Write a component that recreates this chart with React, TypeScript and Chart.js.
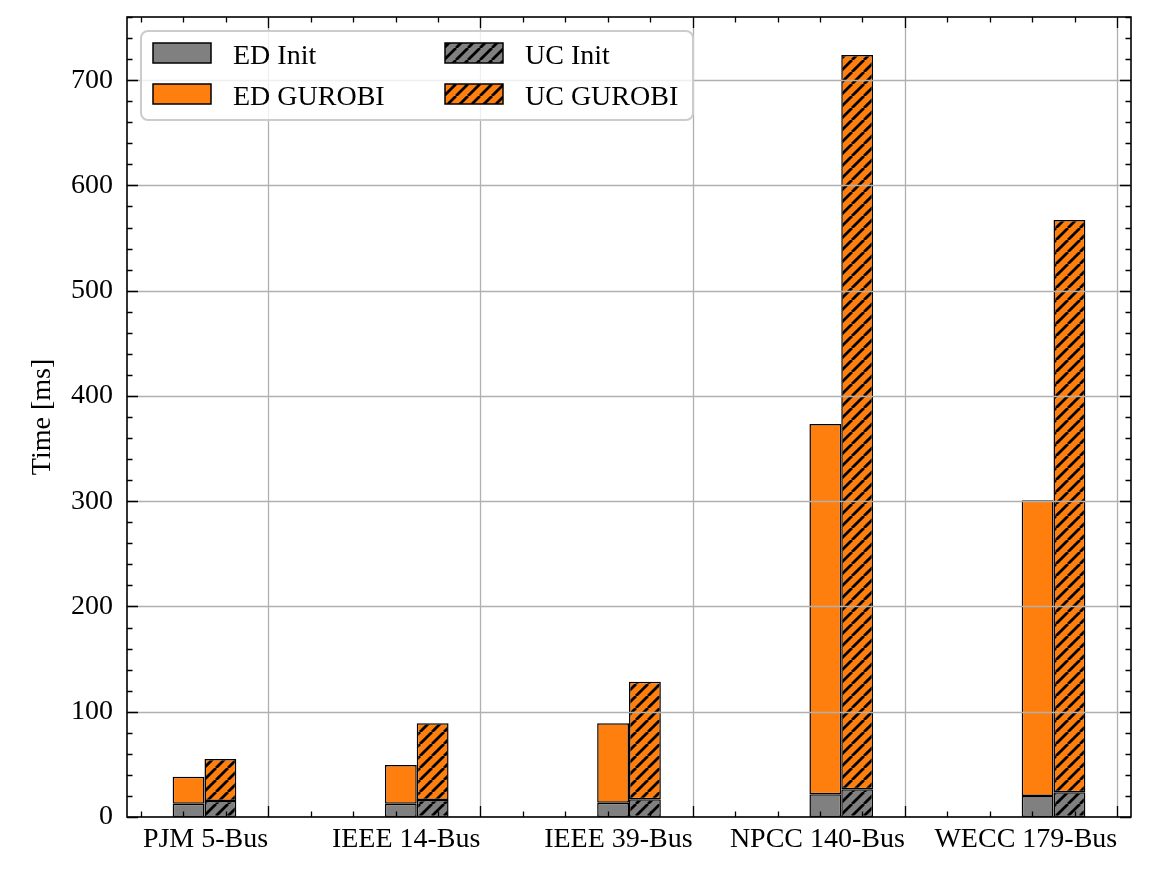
import React, { useEffect, useRef } from 'react';
import { Chart, registerables } from 'chart.js';

Chart.register(...registerables);

// ---- data ----
const categories = ['PJM 5-Bus', 'IEEE 14-Bus', 'IEEE 39-Bus', 'NPCC 140-Bus', 'WECC 179-Bus'];
const edInit = [12.5, 12.5, 13.5, 21.5, 20.0];
const edGurobi = [25.8, 36.9, 75.5, 351.9, 281.0];
const ucInit = [15.2, 16.2, 16.8, 26.3, 23.4];
const ucGurobi = [39.9, 72.8, 111.8, 697.6, 543.8];
const seriesLabels = ['ED Init', 'ED GUROBI', 'UC Init', 'UC GUROBI'];
const yMajorTicks = [0, 100, 200, 300, 400, 500, 600, 700];
const yMinorStep = 20;
const yMax = 760;
const xMin = -0.365;
const xMax = 4.365;
const xTickShift = 0.3;
const xMinorStep = 0.2;

const FONT = '"Liberation Serif", "Times New Roman", serif';
const GREY = '#808080';
const ORANGE = '#ff7f0e';
const GRID = '#b0b0b0';

function makeHatch(ctx: CanvasRenderingContext2D, color: string) {
  const p = 12;
  const c = document.createElement('canvas');
  c.width = p;
  c.height = p;
  const g = c.getContext('2d')!;
  g.fillStyle = color;
  g.fillRect(0, 0, p, p);
  g.strokeStyle = '#000';
  g.lineWidth = 2.8;
  g.beginPath();
  for (let k = -1; k <= 1; k++) {
    g.moveTo(k * p, p);
    g.lineTo(k * p + p, 0);
  }
  g.stroke();
  return ctx.createPattern(c, 'repeat')!;
}

const decorPlugin = {
  id: 'decor',
  afterDatasetsDraw(chart: any) {
    const { ctx, chartArea: a, scales } = chart;
    const x = scales.x;
    const y = scales.y;
    ctx.save();
    ctx.beginPath();
    ctx.rect(a.left, a.top, a.width, a.height);
    ctx.clip();
    ctx.strokeStyle = GRID;
    ctx.lineWidth = 1.3;
    ctx.beginPath();
    for (const t of x.ticks) {
      const px = Math.round(x.getPixelForValue(t.value)) + 0.5;
      ctx.moveTo(px, a.top);
      ctx.lineTo(px, a.bottom);
    }
    for (const t of y.ticks) {
      const py = Math.round(y.getPixelForValue(t.value)) + 0.5;
      ctx.moveTo(a.left, py);
      ctx.lineTo(a.right, py);
    }
    ctx.stroke();
    ctx.restore();
  },
  afterDraw(chart: any) {
    const { ctx, chartArea: a, scales } = chart;
    const x = scales.x;
    const y = scales.y;
    ctx.save();
    // ticks
    ctx.strokeStyle = '#000';
    ctx.lineWidth = 1.3;
    const majLen = 11;
    const minLen = 5.5;
    ctx.beginPath();
    const xMaj = x.ticks.map((t: any) => t.value);
    const isMajX = (v: number) => xMaj.some((m: number) => Math.abs(m - v) < 1e-6);
    const v0 = xTickShift - Math.floor((xTickShift - xMin) / xMinorStep + 1e-9) * xMinorStep;
    for (let v = v0; v <= xMax + 1e-9; v += xMinorStep) {
      if (v < xMin - 1e-9) continue;
      const px = Math.round(x.getPixelForValue(v)) + 0.5;
      const len = isMajX(v) ? majLen : minLen;
      ctx.moveTo(px, a.bottom);
      ctx.lineTo(px, a.bottom - len);
      ctx.moveTo(px, a.top);
      ctx.lineTo(px, a.top + len);
    }
    for (let v = 0; v <= yMax + 1e-9; v += yMinorStep) {
      const py = Math.round(y.getPixelForValue(v)) + 0.5;
      const len = v % 100 === 0 ? majLen : minLen;
      ctx.moveTo(a.left, py);
      ctx.lineTo(a.left + len, py);
      ctx.moveTo(a.right, py);
      ctx.lineTo(a.right - len, py);
    }
    ctx.stroke();
    // frame
    ctx.lineWidth = 1.6;
    ctx.strokeRect(a.left, a.top, a.width, a.height);

    // legend
    const bx = a.left + 14;
    const by = a.top + 14;
    const bw = 552;
    const bh = 89;
    const r = 7;
    ctx.beginPath();
    ctx.moveTo(bx + r, by);
    ctx.lineTo(bx + bw - r, by);
    ctx.arcTo(bx + bw, by, bx + bw, by + r, r);
    ctx.lineTo(bx + bw, by + bh - r);
    ctx.arcTo(bx + bw, by + bh, bx + bw - r, by + bh, r);
    ctx.lineTo(bx + r, by + bh);
    ctx.arcTo(bx, by + bh, bx, by + bh - r, r);
    ctx.lineTo(bx, by + r);
    ctx.arcTo(bx, by, bx + r, by, r);
    ctx.closePath();
    ctx.fillStyle = 'rgba(255,255,255,0.8)';
    ctx.fill();
    ctx.strokeStyle = '#cccccc';
    ctx.lineWidth = 2;
    ctx.stroke();

    ctx.font = `28px ${FONT}`;
    ctx.textAlign = 'left';
    ctx.textBaseline = 'alphabetic';
    chart.data.datasets.forEach((ds: any, i: number) => {
      const col = Math.floor(i / 2);
      const row = i % 2;
      const px = bx + 12 + col * 292;
      const cy = by + 22 + row * 41;
      ctx.fillStyle = ds.backgroundColor;
      ctx.fillRect(px, cy - 10, 58, 20);
      ctx.strokeStyle = '#000';
      ctx.lineWidth = 1.5;
      ctx.strokeRect(px, cy - 10, 58, 20);
      ctx.fillStyle = '#000';
      ctx.fillText(ds.label, px + 80, cy + 10.5);
    });
    ctx.restore();
  },
};

export default function App() {
  const ref = useRef<HTMLCanvasElement>(null);
  useEffect(() => {
    const canvas = ref.current!;
    const ctx = canvas.getContext('2d')!;
    const ucInitFill = makeHatch(ctx, GREY);
    const ucGurobiFill = makeHatch(ctx, ORANGE);
    const toPts = (arr: number[]) => arr.map((v, i) => ({ x: i, y: v }));
    const common = {
      borderColor: '#000',
      borderWidth: 1.5,
      borderSkipped: false,
      categoryPercentage: 0.3,
      barPercentage: 1.0,
    };
    Chart.defaults.font.family = FONT;
    Chart.defaults.color = '#000';
    const chart = new Chart(ctx, {
      type: 'bar',
      data: {
        datasets: [
          { label: seriesLabels[0], data: toPts(edInit), backgroundColor: GREY, stack: 'ED', ...common },
          { label: seriesLabels[1], data: toPts(edGurobi), backgroundColor: ORANGE, stack: 'ED', ...common },
          { label: seriesLabels[2], data: toPts(ucInit), backgroundColor: ucInitFill, stack: 'UC', ...common },
          { label: seriesLabels[3], data: toPts(ucGurobi), backgroundColor: ucGurobiFill, stack: 'UC', ...common },
        ] as any,
      },
      options: {
        responsive: false,
        animation: false,
        layout: { autoPadding: false, padding: { left: 0, top: 17, right: 22, bottom: 0 } },
        plugins: { legend: { display: false }, tooltip: { enabled: false } },
        scales: {
          x: {
            type: 'linear',
            min: xMin,
            max: xMax,
            offset: false,
            afterBuildTicks: (s: any) => {
              s.ticks = categories.map((_, i) => ({ value: i + xTickShift }));
            },
            afterFit: (s: any) => {
              s.height = 76;
              s.paddingLeft = 0;
              s.paddingRight = 0;
            },
            grid: { display: false, drawTicks: false },
            border: { display: false },
            ticks: {
              autoSkip: false,
              maxRotation: 0,
              align: 'end',
              padding: 6,
              font: { size: 28, family: FONT },
              color: '#000',
              callback: (_v: any, idx: number) => categories[idx],
            },
          },
          y: {
            type: 'linear',
            min: 0,
            max: yMax,
            stacked: true,
            afterBuildTicks: (s: any) => {
              s.ticks = yMajorTicks.map((v) => ({ value: v }));
            },
            afterFit: (s: any) => {
              s.width = 127;
              s.paddingTop = 0;
              s.paddingBottom = 0;
            },
            grid: { display: false, drawTicks: false },
            border: { display: false },
            ticks: {
              padding: 14,
              font: { size: 28, family: FONT },
              color: '#000',
              callback: (v: any) => String(v),
            },
            title: {
              display: true,
              text: 'Time [ms]',
              font: { size: 28, family: FONT },
              color: '#000',
              padding: { top: 26, bottom: 0 },
            },
          },
        },
      } as any,
      plugins: [decorPlugin],
    });
    return () => chart.destroy();
  }, []);
  return (
    <div style={{ position: 'absolute', left: 0, top: 0, width: 1153, height: 893, background: '#fff' }}>
      <canvas ref={ref} width={1153} height={893} style={{ display: 'block' }} />
    </div>
  );
}
